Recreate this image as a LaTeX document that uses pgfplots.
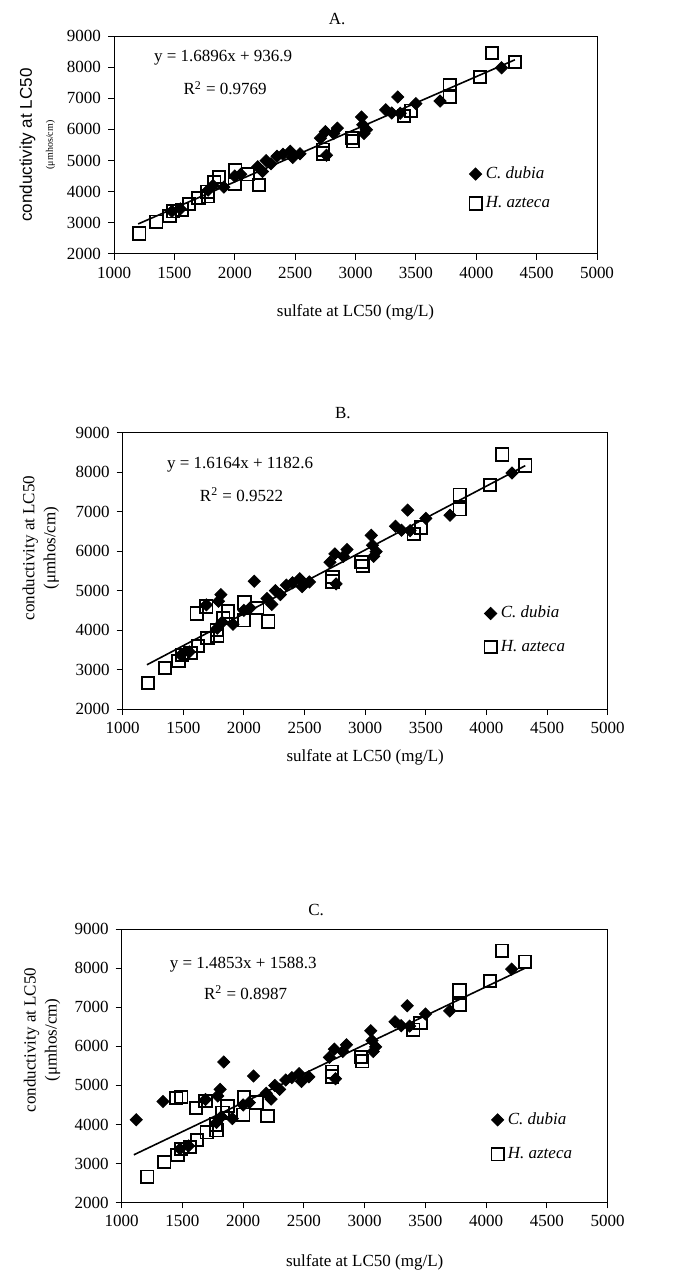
\documentclass[border=0pt]{standalone}
\usepackage{fontspec}
\setmainfont{Liberation Serif}
\setsansfont{Liberation Sans}
\usepackage{pgfplots}
\usepackage{pgfplotstable}
\pgfplotsset{compat=1.18}

\newcommand\cf{\fontsize{8.5}{10.5}\selectfont}

% C. dubia, points common to all three panels
\pgfplotstableread{
x y
1480 3370
1550 3450
1780 4050
1820 4200
1910 4150
2000 4500
2050 4560
2190 4800
2230 4650
2260 5000
2300 4900
2350 5140
2400 5200
2460 5300
2480 5100
2540 5220
2710 5720
2750 5930
2760 5170
2820 5870
2850 6040
3050 6400
3060 6150
3070 5870
3090 5990
3250 6630
3300 6530
3350 7040
3370 6520
3500 6830
3700 6910
4210 7980
}\dubiabase

% H. azteca, points common to all three panels
\pgfplotstableread{
x y
1210 2660
1350 3040
1460 3220
1490 3370
1560 3420
1620 3600
1700 3800
1780 3850
1775 4000
1830 4300
1870 4470
2000 4250
2005 4700
2110 4560
2200 4220
2730 5350
2730 5230
2970 5730
2980 5620
3400 6430
3460 6600
3780 7430
3780 7060
4030 7680
4130 8450
4320 8170
}\aztecabase

% extra points in B (and C)
\pgfplotstableread{
x y
1810 4900
1790 4730
1690 4640
2085 5240
}\dubiaB
\pgfplotstableread{
x y
1610 4420
1690 4600
}\aztecaB

% extra points in C only
\pgfplotstableread{
x y
1120 4120
1340 4590
1840 5600
}\dubiaC
\pgfplotstableread{
x y
1450 4680
1490 4700
}\aztecaC

\pgfplotsset{
  panel/.style={
    scale only axis,
    xmin=1000, xmax=5000, ymin=2000, ymax=9000,
    xtick={1000,1500,...,5000},
    ytick={2000,3000,...,9000},
    xtick pos=bottom, ytick pos=left,
    tick align=outside,
    major tick length=3pt,
    tick style={black, line width=0.5pt},
    axis line style={line width=0.5pt},
    /pgf/number format/1000 sep={},
    /pgf/number format/assume math mode=true,
    tick label style={font=\cf},
    label style={font=\cf},
    title style={font=\cf, anchor=center},
    xlabel={sulfate at LC50 (mg/L)},
    legend cell align=left,
    legend image code/.code={\draw[mark repeat=2,mark phase=2,##1] plot coordinates {(0pt,0pt)(3pt,0pt)(6pt,0pt)};},
    legend style={draw=none, fill=none, anchor=west, inner sep=0pt,
      font=\cf\itshape},
  },
  dubia/.style={only marks, mark=square*, mark size=2.15pt,
    mark options={rotate=45, fill=black, draw=black}},
  azteca/.style={only marks, mark=square, mark size=3.1pt,
    mark options={draw=black, line width=0.9pt, fill=none}},
  fit/.style={black, line width=0.8pt, no marks},
}

\begin{document}
\begin{tikzpicture}
\path[use as bounding box] (0pt,0pt) rectangle (345pt,-640.5pt);

% ---- A ----
\begin{axis}[panel,
  at={(57pt,-18pt)}, anchor=north west,
  width=241.5pt, height=109pt,
  title={A.}, title style={at={(0.462,1)}, yshift=2.5pt},
  xlabel style={at={(axis description cs:0.5,0)}, anchor=center, yshift=-29pt},
  ylabel={{\sffamily conductivity at LC50}\\{\fontsize{5}{6}\selectfont(μmhos/cm)}},
  ylabel style={align=center, at={(axis description cs:-0.159,0.5)}, anchor=center},
  legend style={at={(0.735,0.30)}, row sep=3.5pt},
]
\addplot[dubia] table {\dubiabase};
\addlegendentry{C. dubia}
\addplot[azteca] table {\aztecabase};
\addlegendentry{H. azteca}
\addplot[fit, forget plot] coordinates {(1200,2964.4) (4320,8236.0)};
\node[font=\cf] at (rel axis cs:0.226,0.899) {y = 1.6896x + 936.9};
\node[font=\cf] at (rel axis cs:0.23,0.761) {R\textsuperscript{2} = 0.9769};
\end{axis}

% ---- B ----
\begin{axis}[panel,
  at={(61.35pt,-216.35pt)}, anchor=north west,
  width=242.5pt, height=138.2pt,
  title={B.}, title style={at={(0.454,1)}, yshift=4pt},
  xlabel style={at={(axis description cs:0.5,0)}, anchor=center, yshift=-24pt},
  ylabel={conductivity at LC50\\(μmhos/cm)},
  ylabel style={align=center, at={(axis description cs:-0.169,0.583)}, anchor=center},
  legend style={at={(0.745,0.286)}, row sep=5.5pt},
]
\addplot[dubia] table {\dubiabase};
\addlegendentry{C. dubia}
\addplot[azteca] table {\aztecabase};
\addlegendentry{H. azteca}
\addplot[dubia, forget plot] table {\dubiaB};
\addplot[azteca, forget plot] table {\aztecaB};
\addplot[fit, forget plot] coordinates {(1200,3122.3) (4320,8165.4)};
\node[font=\cf] at (rel axis cs:0.242,0.884) {y = 1.6164x + 1182.6};
\node[font=\cf] at (rel axis cs:0.245,0.775) {R\textsuperscript{2} = 0.9522};
\end{axis}

% ---- C ----
\begin{axis}[panel,
  at={(60.85pt,-464.65pt)}, anchor=north west,
  width=243pt, height=136.6pt,
  title={C.}, title style={at={(0.40,1)}, yshift=3.5pt},
  xlabel style={at={(axis description cs:0.5,0)}, anchor=center, yshift=-30pt},
  ylabel={conductivity at LC50\\(μmhos/cm)},
  ylabel style={align=center, at={(axis description cs:-0.164,0.595)}, anchor=center},
  legend style={at={(0.760,0.24)}, row sep=6pt},
]
\addplot[dubia] table {\dubiabase};
\addlegendentry{C. dubia}
\addplot[azteca] table {\aztecabase};
\addlegendentry{H. azteca}
\addplot[dubia, forget plot] table {\dubiaB};
\addplot[azteca, forget plot] table {\aztecaB};
\addplot[dubia, forget plot] table {\dubiaC};
\addplot[azteca, forget plot] table {\aztecaC};
\addplot[fit, forget plot] coordinates {(1100,3222.0) (4320,8004.8)};
\node[font=\cf] at (rel axis cs:0.25,0.87) {y = 1.4853x + 1588.3};
\node[font=\cf] at (rel axis cs:0.255,0.767) {R\textsuperscript{2} = 0.8987};
\end{axis}
\end{tikzpicture}
\end{document}
